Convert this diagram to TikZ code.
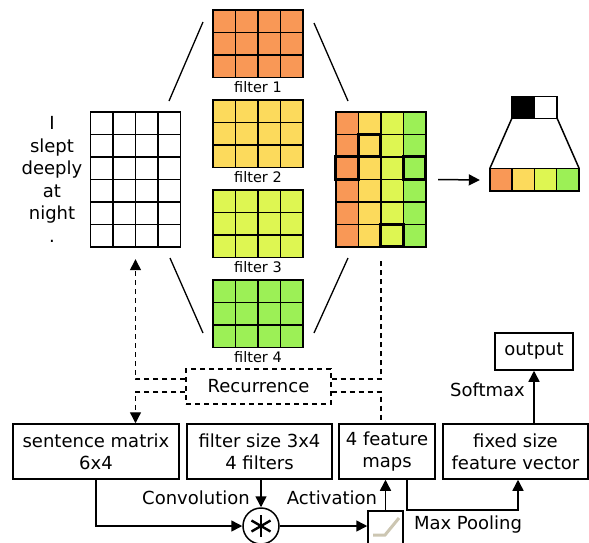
\documentclass[tikz,border=0pt]{standalone}
\usepackage{fontspec}
\setmainfont{DejaVu Sans}
\usetikzlibrary{arrows.meta}

\definecolor{fone}{RGB}{249,152,86}
\definecolor{ftwo}{RGB}{252,218,92}
\definecolor{fthree}{RGB}{222,246,82}
\definecolor{ffour}{RGB}{156,240,86}
\definecolor{relu}{RGB}{204,198,178}

\tikzset{
  cell/.style={draw, line width=1.6pt},
  box/.style={draw, line width=1.5pt, align=center, inner sep=0pt, font=\fontsize{18}{22}\selectfont},
  lbl/.style={font=\fontsize{18}{22}\selectfont, inner sep=0pt},
  flbl/.style={font=\fontsize{14.5}{17}\selectfont, inner sep=0pt},
  rec/.style={line width=1.3pt, dash pattern=on 5pt off 4pt},
  arr/.style={line width=1.5pt, -{Triangle[length=11pt,width=11pt]}},
}

\begin{document}
\begin{tikzpicture}[x=1pt,y=-1pt]
\useasboundingbox (0,0) rectangle (589,542);
\clip (0,0) rectangle (589,542);

% sentence matrix with its words
\node[minimum width=90pt, minimum height=135pt, inner sep=0pt] (sentgrid) at (135.5,179.5) {};
\foreach \c in {0,...,3}
  \foreach \r in {0,...,5}
    \draw[cell] ([shift={(\c*22.5,\r*22.5)}]sentgrid.north west) rectangle ++(22.5,22.5);
\foreach \w [count=\i from 0] in {I,slept,deeply,at,night,.}
  \node[lbl, anchor=base] (word\i) at (52,{129.75+\i*22.5}) {\w};

% the four filters
\foreach \i/\col in {1/fone,2/ftwo,3/fthree,4/ffour} {
  \node[minimum width=90pt, minimum height=67.5pt, inner sep=0pt] (filt\i) at (258,{43.75+(\i-1)*90}) {};
  \foreach \c in {0,...,3}
    \foreach \r in {0,1,2}
      \draw[cell, fill=\col] ([shift={(\c*22.5,\r*22.5)}]filt\i.north west) rectangle ++(22.5,22.5);
  \node[flbl] (flbl\i) at ([yshift=-9.5pt]filt\i.south) {filter \i};
}
\draw[line width=1.3pt] (169,101) -- (203,22);
\draw[line width=1.3pt] (170,258) -- (203,333);
\draw[line width=1.3pt] (314,23) -- (348,101);
\draw[line width=1.3pt] (348,258) -- (314,333);

% feature maps, one column per filter
\node[minimum width=90pt, minimum height=135pt, inner sep=0pt] (featgrid) at (381,179.5) {};
\foreach \c/\col in {0/fone,1/ftwo,2/fthree,3/ffour}
  \foreach \r in {0,...,5}
    \draw[cell, fill=\col] ([shift={(\c*22.5,\r*22.5)}]featgrid.north west) rectangle ++(22.5,22.5);
% maxima
\foreach \c/\r in {1/1,0/2,3/2,2/5}
  \draw[line width=2.8pt] ([shift={(\c*22.5,\r*22.5)}]featgrid.north west) rectangle ++(22.5,22.5);

% pooled vector
\node[minimum width=89pt, minimum height=22.5pt, inner sep=0pt] (pooled) at (534.5,180) {};
\foreach \c/\col in {0/fone,1/ftwo,2/fthree,3/ffour}
  \draw[cell, fill=\col] ([shift={(\c*22.25,0)}]pooled.north west) rectangle ++(22.25,22.5);
\node[minimum width=45pt, minimum height=21.5pt, inner sep=0pt] (maxsel) at (534.5,107.5) {};
\draw[cell, fill=black] (maxsel.north west) rectangle (maxsel.south);
\draw[cell, fill=white] (maxsel.north) rectangle (maxsel.south east);
\draw[line width=1.5pt] (maxsel.south west) -- (pooled.north west);
\draw[line width=1.5pt] (maxsel.south east) -- (pooled.north east);
\draw[arr] ([xshift=12pt]featgrid.east) -- ([xshift=-10pt]pooled.west);

% pipeline boxes
\node[box, minimum width=166pt, minimum height=55pt] (sentbox) at (96,451.5) {sentence matrix\\6x4};
\node[box, minimum width=145pt, minimum height=55pt] (filtbox) at (259.5,451.5) {filter size 3x4\\4 filters};
\node[box, minimum width=96pt, minimum height=55pt] (featbox) at (387,451.5) {4 feature\\maps};
\node[box, minimum width=145pt, minimum height=55pt] (fixbox) at (515.5,451.5) {fixed size\\feature vector};
\node[box, minimum width=78pt, minimum height=37pt] (outbox) at (534,351.5) {output};
\node[box, rec, minimum width=145pt, minimum height=35pt] (recur) at (258.5,386.5) {Recurrence};

% convolution and activation
\node[draw, circle, line width=1.5pt, minimum size=36pt, inner sep=0pt] (conv) at (261,526) {};
\foreach \a in {90,30,150}
  \draw[line width=2.4pt] (conv.center) ++(\a:11pt) -- ++(\a+180:22pt);
\node[draw, line width=1.5pt, minimum width=35pt, minimum height=44pt, inner sep=0pt] (act) at (385.5,533) {};
\draw[relu, line width=3pt] ([shift={(-12.5,2)}]act.center) -- ++(12,0) -- ++(14,-17);

\draw[arr] (sentbox.south) |- (conv.west);
\draw[arr] (conv.north |- filtbox.south) -- (conv.north);
\draw[arr] (conv.east) -- (conv.east -| act.west);
\draw[arr] (act.north) -- (act.north |- featbox.south);
\draw[arr] ([xshift=20pt]featbox.south) -- ++(0,30) -| ([xshift=2.5pt]fixbox.south);
\draw[arr] (outbox.south |- fixbox.north) -- (outbox.south);

\node[lbl, anchor=base] (convlbl) at (196,504) {Convolution};
\node[lbl, anchor=base] (actlbl) at (332,504) {Activation};
\node[lbl, anchor=base] (poollbl) at (468,529) {Max Pooling};
\node[lbl, anchor=base] (softlbl) at (487.5,396) {Softmax};

% recurrence loops
\draw[rec, -{Triangle[length=11pt,width=11pt]}] ([yshift=7.5pt]recur.west) -| ([yshift=-12pt]sentgrid.south);
\draw[rec, -{Triangle[length=11pt,width=11pt]}] ([yshift=-5.5pt]recur.west) -| (sentgrid.south |- sentbox.north);
\draw[rec] ([yshift=7.5pt]recur.east) -| ([yshift=-11pt]featgrid.south);
\draw[rec] ([yshift=-5.5pt]recur.east) -| (featgrid.south |- featbox.north);
\end{tikzpicture}
\end{document}
